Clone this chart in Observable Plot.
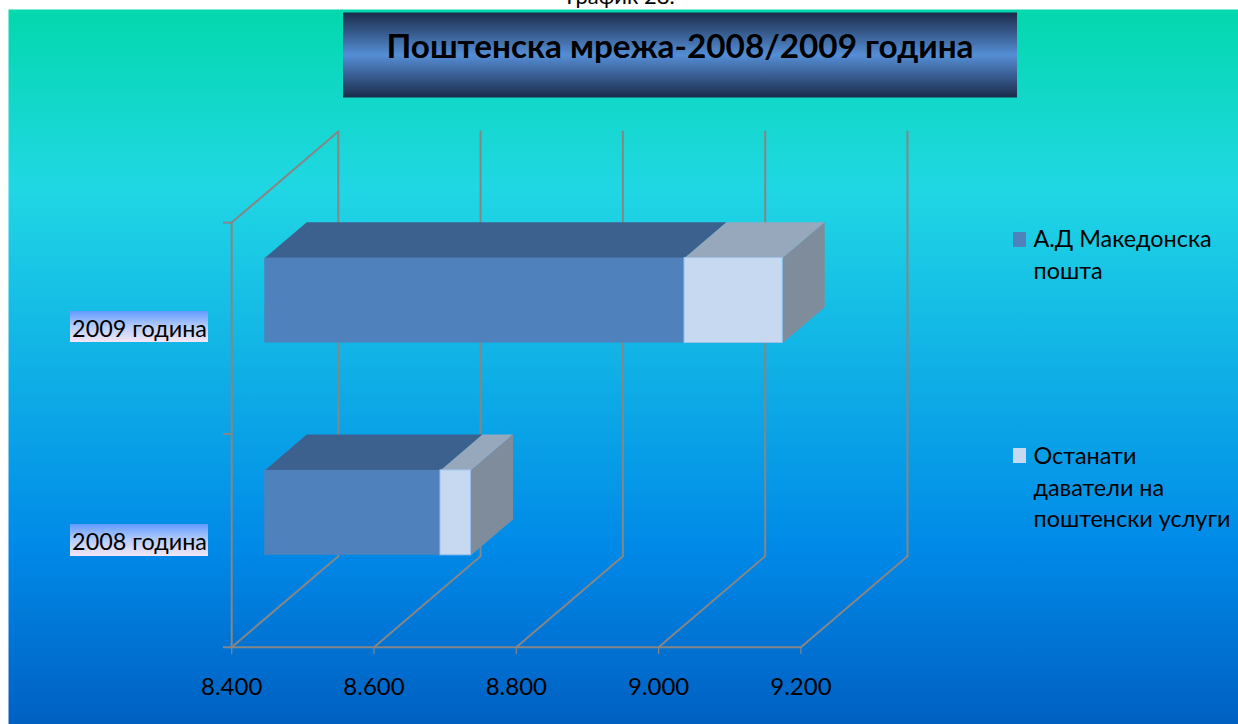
<!DOCTYPE html>
<html><head><meta charset="utf-8">
<script src="https://cdn.jsdelivr.net/npm/d3@7"></script>
<script src="https://cdn.jsdelivr.net/npm/@observablehq/plot@0.6"></script>
<style>html,body{margin:0;padding:0;background:#fff;overflow:hidden}svg{display:block}</style>
</head><body><div id="c"></div>
<script>
const categories = ["2008 година", "2009 година"];
const post = [8647, 8990];
const totals = [8690, 9128];
const xTicks = [8400, 8600, 8800, 9000, 9200];
const titleText = "Поштенска мрежа-2008/2009 година";
const captionText = "График 28.";
const legendA = ["А.Д Македонска", "пошта"];
const legendB = ["Останати", "даватели на", "поштенски услуги"];

const depthX = 149.8, depthY = 0.4286, front = 0.31, back = 0.704;
const kx = 0.7115, ky = 212.3;
const invX = px => 8400 + (px - 231.2) / kx;
const invY = py => (646.7 - py) / ky;

const gray = "#868686";
const grid = [];
xTicks.forEach(v => {
  grid.push({k: "v" + v, x: v + depthX, y: 0 + depthY}, {k: "v" + v, x: v + depthX, y: 2 + depthY});
  grid.push({k: "d" + v, x: v, y: 0}, {k: "d" + v, x: v + depthX, y: depthY});
});
grid.push({k: "top", x: xTicks[0], y: 2}, {k: "top", x: xTicks[0] + depthX, y: 2 + depthY});

function faces(start, end, i) {
  const b = i + 0.3, t = i + 0.7;
  const X = (v, d) => v + d * depthX, Y = (y, d) => y + d * depthY;
  return {
    top: [[start, t, front], [end, t, front], [end, t, back], [start, t, back]].map(([v, y, d]) => ({x: X(v, d), y: Y(y, d)})),
    side: [[end, t, front], [end, t, back], [end, b, back], [end, b, front]].map(([v, y, d]) => ({x: X(v, d), y: Y(y, d)})),
    rect: {x1: X(start, front), x2: X(end, front), y1: Y(b, front), y2: Y(t, front)}
  };
}
const base = xTicks[0];
const marks = [];
marks.push(() => {
  const ns = "http://www.w3.org/2000/svg";
  const defs = document.createElementNS(ns, "defs");
  const grad = (id, stops) => {
    const g = document.createElementNS(ns, "linearGradient");
    g.setAttribute("id", id); g.setAttribute("x1", 0); g.setAttribute("x2", 0); g.setAttribute("y1", 0); g.setAttribute("y2", 1);
    stops.forEach(([o, c]) => { const s = document.createElementNS(ns, "stop"); s.setAttribute("offset", o); s.setAttribute("stop-color", c); g.appendChild(s); });
    defs.appendChild(g);
  };
  grad("bg", [[0, "#03d8ad"], [0.25, "#20d7e4"], [0.75, "#008ae8"], [1, "#0060c2"]]);
  grad("ttl", [[0, "#1b2b4a"], [0.5, "#558ed5"], [0.5, "#558ed5"], [1, "#1b2b4a"]]);
  grad("lab", [[0, "#619bff"], [0.5, "#b5cdf8"], [1, "#f5e6f5"]]);
  return defs;
});
// clipped caption above the chart area
marks.push(Plot.text([captionText], {x: () => invX(620), y: () => invY(-4), text: d => d, fontFamily: "Lato", fontSize: 22, fill: "#000"}));
marks.push(Plot.frame({fill: "url(#bg)", stroke: "none"}));
// title box
marks.push(Plot.rect([0], {x1: () => invX(343), x2: () => invX(1017), y1: () => invY(97.5), y2: () => invY(12.5), fill: "url(#ttl)"}));
marks.push(Plot.text([titleText], {x: () => invX(679.5), y: () => invY(46.5), text: d => d, fontFamily: "Lato", fontWeight: 700, fontSize: 33.3, fill: "#000"}));
// grid
marks.push(Plot.line(grid, {x: "x", y: "y", z: "k", stroke: gray, strokeWidth: 2}));
marks.push(Plot.ruleY([0], {x1: invX(223), x2: xTicks[4], stroke: gray, strokeWidth: 2}));
marks.push(Plot.ruleX([xTicks[0]], {y1: 0, y2: 2, stroke: gray, strokeWidth: 2}));
marks.push(Plot.ruleY([invY(433.5), 2], {x1: invX(223), x2: xTicks[0], stroke: gray, strokeWidth: 2}));
marks.push(Plot.ruleX(xTicks, {y1: 0, y2: invY(654), stroke: gray, strokeWidth: 1.2}));
// bars
categories.forEach((c, i) => {
  const a = faces(base, post[i], i), b = faces(post[i], totals[i], i);
  marks.push(Plot.line(a.top, {x: "x", y: "y", fill: "#3d618f", stroke: "none"}));
  marks.push(Plot.line(b.top, {x: "x", y: "y", fill: "#98a8bc", stroke: "none"}));
  marks.push(Plot.line(b.side, {x: "x", y: "y", fill: "#7f8c9c", stroke: "none"}));
  marks.push(Plot.rect([a.rect], {x1: "x1", x2: "x2", y1: "y1", y2: "y2", fill: "#4f81bd"}));
  marks.push(Plot.rect([b.rect], {x1: "x1", x2: "x2", y1: "y1", y2: "y2", fill: "#c6d9f1", stroke: "#9fc0ea", strokeWidth: 1}));
});
// category labels
categories.forEach((c, i) => {
  const y0 = i === 0 ? 556 : 342, y1 = i === 0 ? 524 : 311;
  marks.push(Plot.rect([c], {x1: () => invX(70), x2: () => invX(208), y1: () => invY(y0), y2: () => invY(y1), fill: "url(#lab)"}));
  marks.push(Plot.text([c], {x: () => invX(139), y: () => invY((y0 + y1) / 2 + 2), text: d => d, fontFamily: "Lato", fontSize: 23.4, fill: "#000"}));
});
// x tick labels
marks.push(Plot.text(xTicks, {x: d => d, y: () => invY(687), text: d => d3.format(",")(d).replace(",", "."), fontFamily: "Lato", fontSize: 24, fill: "#000"}));
// legend
const legend = (fill, sy, lines, ly) => {
  marks.push(Plot.rect([fill], {x1: () => invX(1013), x2: () => invX(1026), y1: () => invY(sy + 15), y2: () => invY(sy), fill: d => d}));
  lines.forEach((l, j) => marks.push(Plot.text([l], {x: () => invX(1033), y: () => invY(ly + j * 31.5), text: d => d, textAnchor: "start", fontFamily: "Lato", fontSize: 23.4, fill: "#000"})));
};
legend("#4f81bd", 232, legendA, 239);
legend("#c6d9f1", 448, legendB, 456);

const chart = Plot.plot({
  width: 1238, height: 724,
  marginLeft: 8, marginTop: 9, marginRight: 0, marginBottom: 0,
  style: {background: "#fff", overflow: "hidden"},
  x: {domain: [invX(8), invX(1238)], axis: null},
  y: {domain: [invY(724), invY(9)], axis: null},
  marks
});
document.getElementById("c").appendChild(chart);
</script></body></html>
